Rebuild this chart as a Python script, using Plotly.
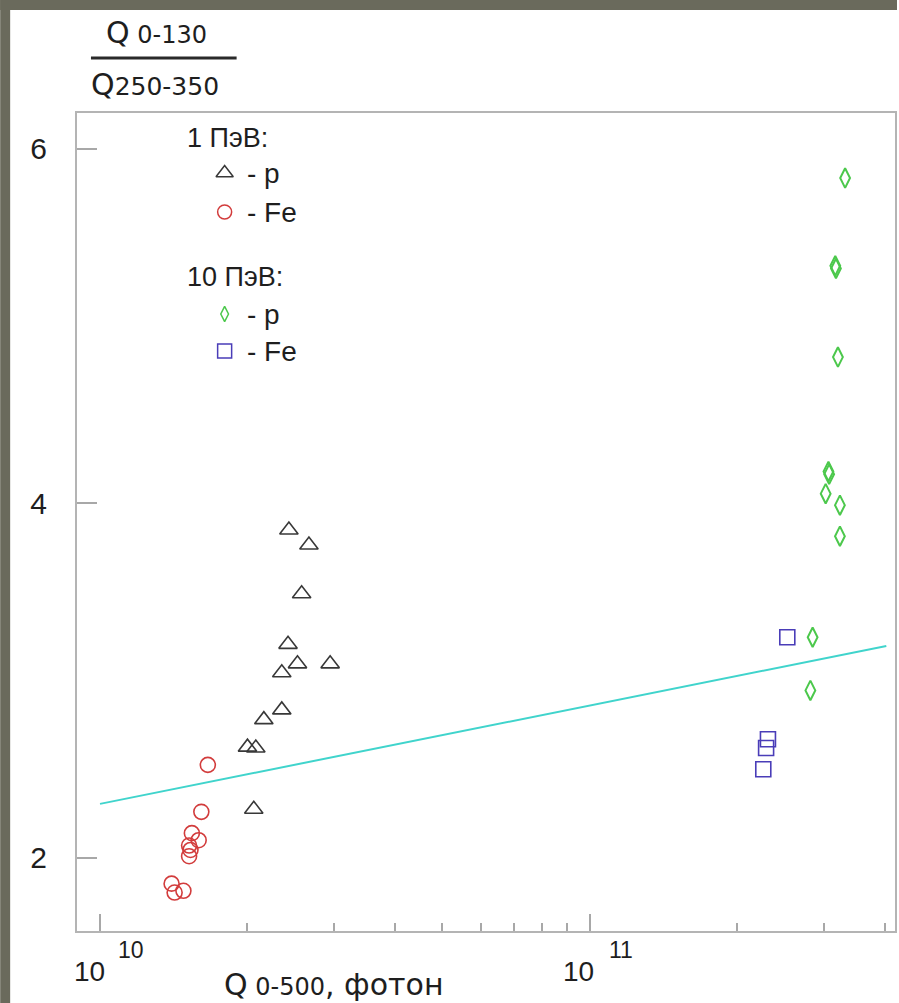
import math
import plotly.graph_objects as go

# ---------------- data ----------------
tri_x = [2.43e10, 2.67e10, 2.58e10, 2.42e10, 2.53e10, 2.35e10, 2.95e10, 2.35e10, 2.16e10, 2.00e10, 2.08e10, 2.06e10]
tri_y = [3.85, 3.765, 3.49, 3.205, 3.095, 3.045, 3.095, 2.835, 2.78, 2.625, 2.62, 2.275]

circ_x = [1.66e10, 1.61e10, 1.54e10, 1.59e10, 1.52e10, 1.53e10, 1.52e10, 1.40e10, 1.42e10, 1.48e10]
circ_y = [2.525, 2.26, 2.14, 2.10, 2.07, 2.045, 2.01, 1.855, 1.805, 1.815]

dia_x = [3.32e11, 3.17e11, 3.18e11, 3.21e11, 3.07e11, 3.08e11, 3.03e11, 3.24e11, 3.24e11, 2.85e11, 2.82e11]
dia_y = [5.835, 5.34, 5.325, 4.825, 4.18, 4.165, 4.055, 3.99, 3.815, 3.245, 2.945]

sq_x = [2.53e11, 2.31e11, 2.29e11, 2.26e11]
sq_y = [3.245, 2.67, 2.62, 2.50]

fit_x = [1.0e10, 4.03e11]
fit_y = [2.305, 3.196]

y_ticks = [2, 4, 6]
x_major = [1e10, 1e11]
x_major_base = ["10", "10"]
x_major_exp = ["10", "11"]
x_minor = [2e10, 3e10, 4e10, 5e10, 6e10, 7e10, 8e10, 9e10, 2e11, 3e11, 4e11]

legend_groups = ["1 ПэВ:", "10 ПэВ:"]
legend_items = ["- p", "- Fe", "- p", "- Fe"]

# ---------------- layout constants ----------------
W, H = 899, 1003
L, R, T, B = 77, 897, 113, 931
XR = [9.953, 11.623]
YR = [1.588, 6.202]
FONT = "Arial, Liberation Sans, sans-serif"
WIDE = "DejaVu Sans, sans-serif"
TXT = "#1e1e1e"
BG_DARK = "#6a6a5c"

C_TRI = "#383838"
C_CIRC = "#d23c3c"
C_DIA = "#4cc84c"
C_SQ = "#4a3db8"
C_FIT = "#40d4cc"


def px_x(p):
    return (p - L) / (R - L)


def px_y(p):
    return (B - p) / (B - T)


fig = go.Figure()

fig.add_trace(go.Scatter(x=fit_x, y=fit_y, mode="lines",
                         line=dict(color=C_FIT, width=2), showlegend=False))
fig.add_trace(go.Scatter(x=tri_x, y=tri_y, mode="markers", showlegend=False,
                         marker=dict(symbol="triangle-up-open", size=16, color=C_TRI,
                                     line=dict(width=1.6, color=C_TRI))))
fig.add_trace(go.Scatter(x=circ_x, y=circ_y, mode="markers", showlegend=False,
                         marker=dict(symbol="circle-open", size=15, color=C_CIRC,
                                     line=dict(width=1.6, color=C_CIRC))))
fig.add_trace(go.Scatter(x=dia_x, y=dia_y, mode="markers", showlegend=False,
                         marker=dict(symbol="diamond-tall-open", size=14, color=C_DIA,
                                     line=dict(width=2, color=C_DIA))))
fig.add_trace(go.Scatter(x=sq_x, y=sq_y, mode="markers", showlegend=False,
                         marker=dict(symbol="square-open", size=15, color=C_SQ,
                                     line=dict(width=1.6, color=C_SQ))))

# legend key markers on an overlay axis measured in page pixels
key_px_x = 225
key_px_y = [173, 212, 314, 351]
key_sym = ["triangle-up-open", "circle-open", "diamond-tall-open", "square-open"]
key_col = [C_TRI, C_CIRC, C_DIA, C_SQ]
key_size = [15, 14, 11, 14]
for yy, s, c, sz in zip(key_px_y, key_sym, key_col, key_size):
    fig.add_trace(go.Scatter(x=[key_px_x], y=[yy], xaxis="x2", yaxis="y2", mode="markers",
                             showlegend=False, hoverinfo="skip",
                             marker=dict(symbol=s, size=sz, color=c, line=dict(width=1.5, color=c))))

annotations = []
# legend text
for txt, yy in zip(legend_groups, [138, 277]):
    annotations.append(dict(x=px_x(185), y=px_y(yy), xref="paper", yref="paper",
                            text=txt, showarrow=False, xanchor="left", yanchor="middle",
                            font=dict(family=FONT, size=27, color=TXT)))
for txt, yy in zip(legend_items, key_px_y):
    annotations.append(dict(x=px_x(245), y=px_y(yy), xref="paper", yref="paper",
                            text=txt, showarrow=False, xanchor="left", yanchor="middle",
                            font=dict(family=FONT, size=28, color=TXT)))

# x tick labels (10 with exponent)
for v, base, ex in zip(x_major, x_major_base, x_major_exp):
    lx = math.log10(v)
    annotations.append(dict(x=lx, y=px_y(972), xref="x", yref="paper", xshift=-11,
                            text=base, showarrow=False, xanchor="center", yanchor="middle",
                            font=dict(family=FONT, size=28, color=TXT)))
    annotations.append(dict(x=lx, y=px_y(950), xref="x", yref="paper", xshift=31,
                            text=ex, showarrow=False, xanchor="center", yanchor="middle",
                            font=dict(family=FONT, size=23, color=TXT)))

# x axis title
annotations.append(dict(x=px_x(222), y=px_y(984), xref="paper", yref="paper",
                        text="Q<span style='font-size:24px'> 0-500</span>, фотон",
                        showarrow=False, xanchor="left", yanchor="middle",
                        font=dict(family=WIDE, size=30, color=TXT)))

# y axis title (fraction)
annotations.append(dict(x=px_x(104), y=px_y(32), xref="paper", yref="paper",
                        text="Q<span style='font-size:24px'> 0-130</span>",
                        showarrow=False, xanchor="left", yanchor="middle",
                        font=dict(family=WIDE, size=30, color=TXT)))
annotations.append(dict(x=px_x(89), y=px_y(84), xref="paper", yref="paper",
                        text="Q<span style='font-size:25px'>250-350</span>",
                        showarrow=False, xanchor="left", yanchor="middle",
                        font=dict(family=WIDE, size=30, color=TXT)))

shapes = [
    # fraction bar
    dict(type="line", xref="paper", yref="paper", x0=px_x(91), x1=px_x(237),
         y0=px_y(58), y1=px_y(58), line=dict(color="#2a2a2a", width=3)),
    # dark slide background strips
    dict(type="rect", xref="paper", yref="paper", x0=px_x(0), x1=px_x(10),
         y0=px_y(0), y1=px_y(H), fillcolor=BG_DARK, line=dict(width=0), layer="below"),
    dict(type="rect", xref="paper", yref="paper", x0=px_x(0), x1=px_x(W),
         y0=px_y(0), y1=px_y(10), fillcolor=BG_DARK, line=dict(width=0), layer="below"),
]

fig.update_layout(
    width=W, height=H,
    margin=dict(l=L, r=W - R, t=T, b=H - B, pad=0),
    paper_bgcolor="white", plot_bgcolor="white",
    showlegend=False,
    font=dict(family=FONT, size=27, color=TXT),
    xaxis=dict(type="log", range=XR, showgrid=False, zeroline=False,
               showline=True, mirror=True, linecolor="#b4b4b4", linewidth=2,
               tickmode="array", tickvals=x_major, ticks="inside", ticklen=17,
               tickcolor="#a8a8a8", tickwidth=1.5, showticklabels=False,
               minor=dict(tickmode="array", tickvals=x_minor, ticks="inside",
                          ticklen=8, tickcolor="#a8a8a8", tickwidth=1.5, showgrid=False)),
    yaxis=dict(range=YR, showgrid=False, zeroline=False,
               showline=True, mirror=True, linecolor="#b4b4b4", linewidth=2,
               tickmode="array", tickvals=y_ticks, ticks="inside", ticklen=20,
               tickcolor="#a8a8a8", tickwidth=1.5,
               tickfont=dict(family=FONT, size=30, color=TXT), ticklabelstandoff=22),
    xaxis2=dict(overlaying="x", range=[L, R], visible=False, fixedrange=True),
    yaxis2=dict(overlaying="y", range=[B, T], visible=False, fixedrange=True),
    annotations=annotations,
    shapes=shapes,
)

fig.write_html("out.html")
